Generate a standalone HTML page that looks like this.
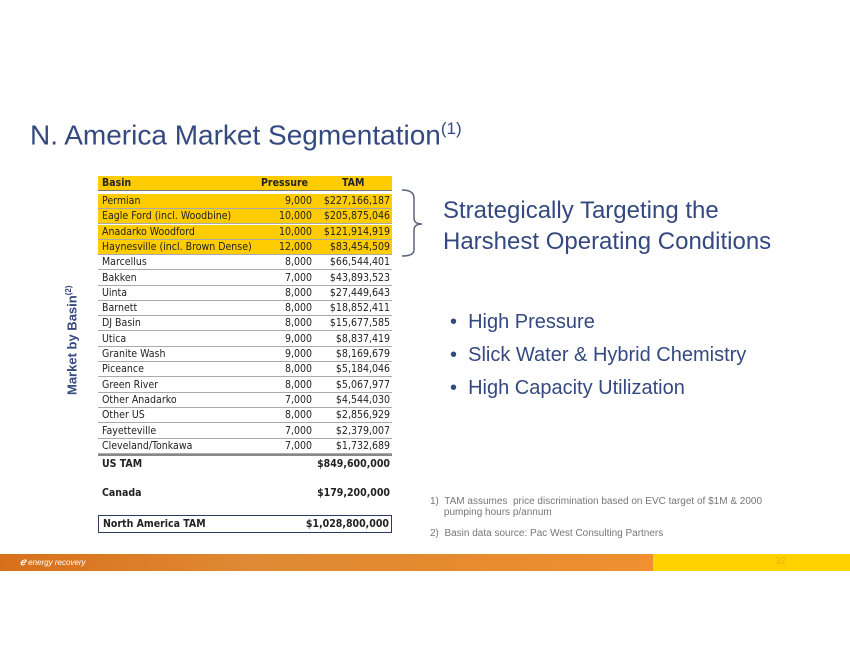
<!DOCTYPE html>
<html><head><style>
body{margin:0;width:850px;height:660px;background:#fff;position:relative;overflow:hidden;font-family:"Liberation Sans",sans-serif}
.t{position:absolute;white-space:nowrap}
.row{position:absolute;left:98px;width:294px;height:15px;font-family:"DejaVu Sans Condensed","Liberation Sans Narrow","Liberation Sans",sans-serif;font-size:10.5px;color:#222;line-height:15px;border-bottom:1px solid #aaa;box-sizing:border-box}
.row span{position:absolute}
.a{left:4px}.b{right:80px}.c{right:2px}
.y{background:#ffcc00}
</style></head><body>
<div class="t" style="left:30px;top:119px;font-size:28px;color:#34497f">N. America Market Segmentation<sup style="font-size:17px">(1)</sup></div>

<div class="row y" style="top:176px;font-weight:bold;border-bottom:1px solid #777"><span class="a">Basin</span><span style="left:163px">Pressure</span><span style="left:244px">TAM</span></div>
<div id="rows"></div>
<script>
var d=[["Permian","9,000","$227,166,187",1],["Eagle Ford (incl. Woodbine)","10,000","$205,875,046",1],["Anadarko Woodford","10,000","$121,914,919",1],["Haynesville (incl. Brown Dense)","12,000","$83,454,509",1],["Marcellus","8,000","$66,544,401"],["Bakken","7,000","$43,893,523"],["Uinta","8,000","$27,449,643"],["Barnett","8,000","$18,852,411"],["DJ Basin","8,000","$15,677,585"],["Utica","9,000","$8,837,419"],["Granite Wash","9,000","$8,169,679"],["Piceance","8,000","$5,184,046"],["Green River","8,000","$5,067,977"],["Other Anadarko","7,000","$4,544,030"],["Other US","8,000","$2,856,929"],["Fayetteville","7,000","$2,379,007"],["Cleveland/Tonkawa","7,000","$1,732,689"]];
var h="";d.forEach(function(r,i){h+='<div class="row'+(r[3]?' y':'')+'" style="top:'+(194+i*15.3)+'px"><span class="a">'+r[0]+'</span><span class="b">'+r[1]+'</span><span class="c">'+r[2]+'</span></div>';});
document.getElementById("rows").innerHTML=h;
</script>
<div style="position:absolute;left:98px;top:454px;width:294px;height:2px;background:#888"></div>
<div class="row" style="top:457px;font-weight:bold;border:none"><span class="a">US TAM</span><span class="c">$849,600,000</span></div>
<div class="row" style="top:486px;font-weight:bold;border:none"><span class="a">Canada</span><span class="c">$179,200,000</span></div>
<div class="row" style="top:515px;height:18px;line-height:16px;font-weight:bold;border:1.5px solid #2b3b5c"><span class="a">North America TAM</span><span class="c">$1,028,800,000</span></div>

<div class="t" style="left:64px;top:395px;transform:rotate(-90deg);transform-origin:0 0;font-size:13px;font-weight:bold;color:#34497f">Market by Basin<sup style="font-size:8px">(2)</sup></div>

<svg style="position:absolute;left:400px;top:188px" width="40" height="70"><path d="M2,2 Q14,2 14,10 L14,30 Q14,36 22,36 Q14,36 14,42 L14,62 Q14,68 2,68" fill="none" stroke="#5a6477" stroke-width="1.5"/></svg>
<div class="t" style="left:443px;top:195px;font-size:24px;line-height:31px;color:#34497f">Strategically Targeting the<br>Harshest Operating Conditions</div>

<div class="t" style="left:450px;top:306px;font-size:20px;line-height:33px;color:#34497f">•&nbsp; High Pressure<br>•&nbsp; Slick Water &amp; Hybrid Chemistry<br>•&nbsp; High Capacity Utilization</div>

<div class="t" style="left:430px;top:496px;font-size:10px;line-height:11px;color:#777">1)&nbsp; TAM assumes&nbsp; price discrimination based on EVC target of $1M &amp; 2000<br>&nbsp;&nbsp;&nbsp;&nbsp;&nbsp;pumping hours p/annum</div>
<div class="t" style="left:430px;top:528px;font-size:10px;color:#777">2)&nbsp; Basin data source: Pac West Consulting Partners</div>

<div style="position:absolute;left:0;top:554px;width:653px;height:17px;background:linear-gradient(90deg,#d8701a 0%,#e08a35 40%,#e2892f 60%,#f09030 100%)"></div>
<div style="position:absolute;left:653px;top:554px;width:197px;height:17px;background:#ffd200"></div>
<div class="t" style="left:20px;top:557px;font-size:8px;color:#fff;font-style:italic"><b style="font-size:10px">ℯ</b> energy recovery</div>
<div class="t" style="left:775px;top:556px;font-size:10px;color:#f0b000">32</div>
</body></html>
